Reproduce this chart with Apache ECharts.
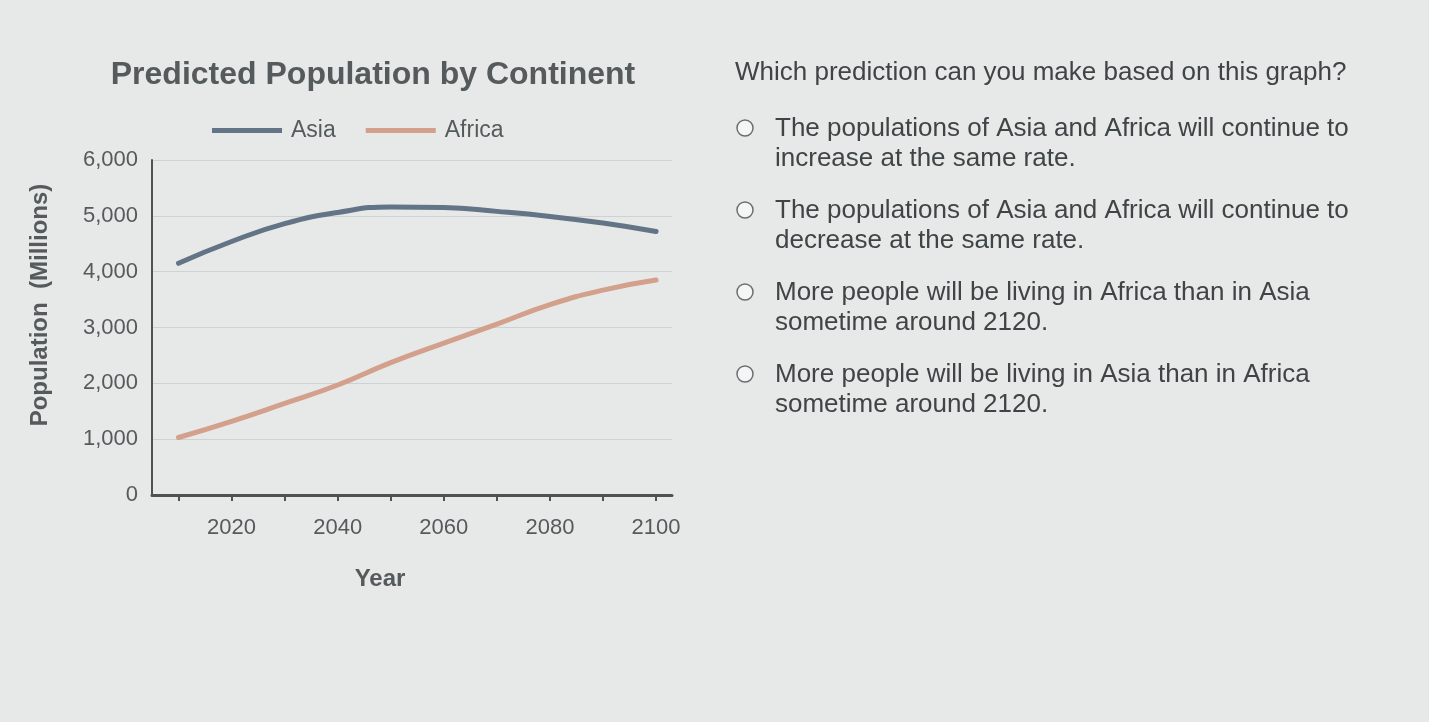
<!DOCTYPE html>
<html>
<head>
<meta charset="utf-8">
<title>Predicted Population by Continent</title>
<script src="https://cdn.jsdelivr.net/npm/echarts@6/dist/echarts.min.js"></script>
<style>
  html, body { margin: 0; padding: 0; background: #e6e9e8; }
  #main { width: 1429px; height: 722px; }
</style>
</head>
<body>
<div id="main"></div>
<script>
// data (millions)
var years = [2010, 2020, 2030, 2040, 2050, 2060, 2070, 2080, 2090, 2100];
var asia = [4150, 4540, 4860, 5060, 5160, 5150, 5080, 4990, 4870, 4720];
var africa = [1030, 1320, 1640, 1970, 2370, 2720, 3060, 3410, 3670, 3850];
var tickYears = [2010, 2020, 2030, 2040, 2050, 2060, 2070, 2080, 2090, 2100];
var labelYears = [2020, 2040, 2060, 2080, 2100];

var question = "Which prediction can you make based on this graph?";
var options = [
  "The populations of Asia and Africa will continue to\nincrease at the same rate.",
  "The populations of Asia and Africa will continue to\ndecrease at the same rate.",
  "More people will be living in Africa than in Asia\nsometime around 2120.",
  "More people will be living in Asia than in Africa\nsometime around 2120."
];

var font = '"Liberation Sans", Arial, sans-serif';
var textColor = "#555a5c";

function pairs(xs, ys) {
  return xs.map(function (x, i) { return [x, ys[i]]; });
}

// y axis title, placed by hand so it sits where the picture has it
var graphics = [{
  type: "text",
  x: 40,
  y: 305,
  rotation: Math.PI / 2,
  style: {
    text: "Population  (Millions)",
    font: "bold 24px " + font,
    fill: textColor,
    align: "center",
    verticalAlign: "middle"
  }
}, {
  type: "text",
  left: 735,
  top: 60,
  style: { text: question, font: "26px " + font, fill: "#3f4446" }
}];
options.forEach(function (txt, i) {
  var top = 114 + i * 82;
  graphics.push({
    type: "circle",
    shape: { cx: 745, cy: top + 14, r: 8 },
    style: { fill: "#f4f6f6", stroke: "#6a6f71", lineWidth: 1.5 }
  });
  graphics.push({
    type: "text",
    left: 775,
    top: top,
    style: { text: txt, font: "26px " + font, fill: "#3f4446", lineHeight: 30 }
  });
});

var chart = echarts.init(document.getElementById("main"));
chart.setOption({
  backgroundColor: "#e6e9e8",
  animation: false,
  title: {
    text: "Predicted Population by Continent",
    left: 368,
    top: 54,
    textAlign: "center",
    textStyle: { fontFamily: font, fontSize: 32, fontWeight: "bold", color: textColor }
  },
  legend: {
    data: ["Asia", "Africa"],
    left: 207,
    top: 114,
    icon: "rect",
    itemWidth: 70,
    itemHeight: 5,
    itemGap: 30,
    textStyle: { fontFamily: font, fontSize: 23, color: textColor, padding: [0, 0, 0, 4] }
  },
  grid: { left: 152, right: 757, top: 160, bottom: 227 },
  xAxis: {
    type: "value",
    min: 2005,
    max: 2103,
    name: "Year",
    nameLocation: "middle",
    nameGap: 72,
    nameTextStyle: { fontFamily: font, fontSize: 24, fontWeight: "bold", color: textColor, padding: [0, 64, 0, 0] },
    axisLine: { show: true, lineStyle: { color: "#4e5254", width: 3 } },
    axisTick: { show: true, customValues: tickYears, length: 6, lineStyle: { color: "#4e5254", width: 2 } },
    axisLabel: {
      customValues: labelYears,
      margin: 22,
      fontFamily: font,
      fontSize: 22,
      color: textColor,
      formatter: function (v) { return String(v); }
    },
    splitLine: { show: false }
  },
  yAxis: {
    type: "value",
    min: 0,
    max: 6000,
    interval: 1000,
    axisLine: { show: true, lineStyle: { color: "#4e5254", width: 2 } },
    axisTick: { show: false },
    axisLabel: {
      margin: 14,
      fontFamily: font,
      fontSize: 22,
      color: textColor,
      formatter: function (v) { return v.toLocaleString("en-US"); }
    },
    splitLine: { show: true, lineStyle: { color: "#cdd2d2", width: 1 } }
  },
  series: [
    {
      name: "Asia",
      type: "line",
      smooth: true,
      symbol: "none",
      data: pairs(years, asia),
      itemStyle: { color: "#627485" },
      lineStyle: { color: "#627485", width: 5, cap: "round" }
    },
    {
      name: "Africa",
      type: "line",
      smooth: true,
      symbol: "none",
      data: pairs(years, africa),
      itemStyle: { color: "#d3a08c" },
      lineStyle: { color: "#d3a08c", width: 5, cap: "round" }
    }
  ],
  graphic: graphics
});
</script>
</body>
</html>
